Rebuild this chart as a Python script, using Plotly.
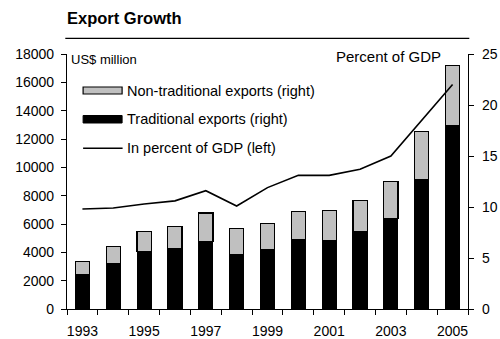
import plotly.graph_objects as go

years = list(range(1993, 2006))
traditional = [2400, 3225, 4045, 4280, 4750, 3810, 4210, 4870, 4800, 5455, 6400, 9105, 12915]
non_traditional = [940, 1175, 1410, 1530, 2025, 1885, 1810, 2000, 2140, 2185, 2585, 3405, 4255]
pct_gdp = [9.8, 9.9, 10.3, 10.6, 11.6, 10.1, 11.9, 13.1, 13.1, 13.7, 15.0, 18.5, 22.0]
year_labels = [1993, 1995, 1997, 1999, 2001, 2003, 2005]

FONT = "Liberation Sans, Arial, sans-serif"
W, H = 500, 339
L, R, T, B = 66.7, 32.3, 54, 30
X_RANGE = [years[0] - 0.5, years[-1] + 0.5]
# tick marks sit on the boundaries between years
boundaries = [y - 0.5 for y in years] + [years[-1] + 0.5]


def xp(x):
    return (x - L) / (W - L - R)


def yp(y):
    return (H - B - y) / (H - T - B)


fig = go.Figure()
fig.add_trace(go.Bar(
    x=years, y=traditional, name="Traditional exports (right)",
    marker=dict(color="black", line=dict(color="black", width=1)),
    width=0.46, showlegend=False,
))
fig.add_trace(go.Bar(
    x=years, y=non_traditional, name="Non-traditional exports (right)",
    marker=dict(color="#c0c0c0", line=dict(color="black", width=1.2)),
    width=0.46, showlegend=False,
))
fig.add_trace(go.Scatter(
    x=years, y=pct_gdp, name="In percent of GDP (left)", yaxis="y2",
    mode="lines", line=dict(color="black", width=1.6), showlegend=False,
))
# empty trace that carries the year-label axis
fig.add_trace(go.Scatter(x=[], y=[], xaxis="x2", showlegend=False,
                         hoverinfo="skip"))

shapes = [
    # rule under the title
    dict(type="line", xref="paper", yref="paper",
         x0=xp(65), x1=xp(469), y0=yp(38.3), y1=yp(38.3),
         line=dict(color="black", width=1.3)),
    # legend swatches
    dict(type="rect", xref="paper", yref="paper",
         x0=xp(82.8), x1=xp(121.8), y0=yp(94), y1=yp(87),
         fillcolor="#c0c0c0", line=dict(color="black", width=1.2)),
    dict(type="rect", xref="paper", yref="paper",
         x0=xp(82.8), x1=xp(121.8), y0=yp(123), y1=yp(115.5),
         fillcolor="black", line=dict(color="black", width=1)),
    dict(type="line", xref="paper", yref="paper",
         x0=xp(82.8), x1=xp(122.3), y0=yp(148.3), y1=yp(148.3),
         line=dict(color="black", width=1.6)),
]

annotations = [
    dict(text="<b>Export Growth</b>", xref="paper", yref="paper",
         x=xp(65), y=yp(18), xanchor="left", yanchor="middle",
         showarrow=False, font=dict(family=FONT, size=16.5, color="black")),
    dict(text="US$ million", xref="paper", yref="paper",
         x=xp(69), y=yp(59), xanchor="left", yanchor="middle",
         showarrow=False, font=dict(family=FONT, size=13, color="black")),
    dict(text="Percent of GDP", xref="paper", yref="paper",
         x=xp(443), y=yp(57), xanchor="right", yanchor="middle",
         showarrow=False, font=dict(family=FONT, size=15, color="black")),
]
for label, yy in [("Non-traditional exports (right)", 90.5),
                  ("Traditional exports (right)", 119.3),
                  ("In percent of GDP (left)", 148.3)]:
    annotations.append(dict(text=label, xref="paper", yref="paper",
                            x=xp(125), y=yp(yy), xanchor="left", yanchor="middle",
                            showarrow=False,
                            font=dict(family=FONT, size=14.5, color="black")))

fig.update_layout(
    width=W, height=H,
    margin=dict(l=L, r=R, t=T, b=B, pad=0, autoexpand=False),
    paper_bgcolor="white", plot_bgcolor="white",
    barmode="stack",
    font=dict(family=FONT, size=14, color="black"),
    xaxis=dict(
        range=X_RANGE, tickvals=boundaries, ticks="outside", ticklen=5,
        tickcolor="black", tickwidth=1.2, showticklabels=False,
        showline=True, linecolor="black", linewidth=1.2, showgrid=False,
        zeroline=False, automargin=False,
    ),
    xaxis2=dict(
        range=X_RANGE, overlaying="x", anchor="y", side="bottom",
        tickvals=year_labels, tickformat="d", ticks="", showline=False,
        showgrid=False, zeroline=False, tickfont=dict(size=14),
        ticklabelstandoff=12, automargin=False,
    ),
    yaxis=dict(
        range=[0, 18000], dtick=2000, tickformat="d", ticks="outside",
        ticklen=5, tickcolor="black", showline=True, linecolor="black",
        linewidth=1.2, showgrid=False, zeroline=False, tickfont=dict(size=14),
        ticklabelstandoff=4, automargin=False,
    ),
    yaxis2=dict(
        range=[0, 25], dtick=5, ticks="outside", ticklen=5, tickcolor="black",
        showline=True, linecolor="black", linewidth=1.2, showgrid=False,
        zeroline=False, overlaying="y", side="right", tickfont=dict(size=14),
        ticklabelstandoff=5, automargin=False,
    ),
    shapes=shapes,
    annotations=annotations,
)

fig.write_html("out.html")
